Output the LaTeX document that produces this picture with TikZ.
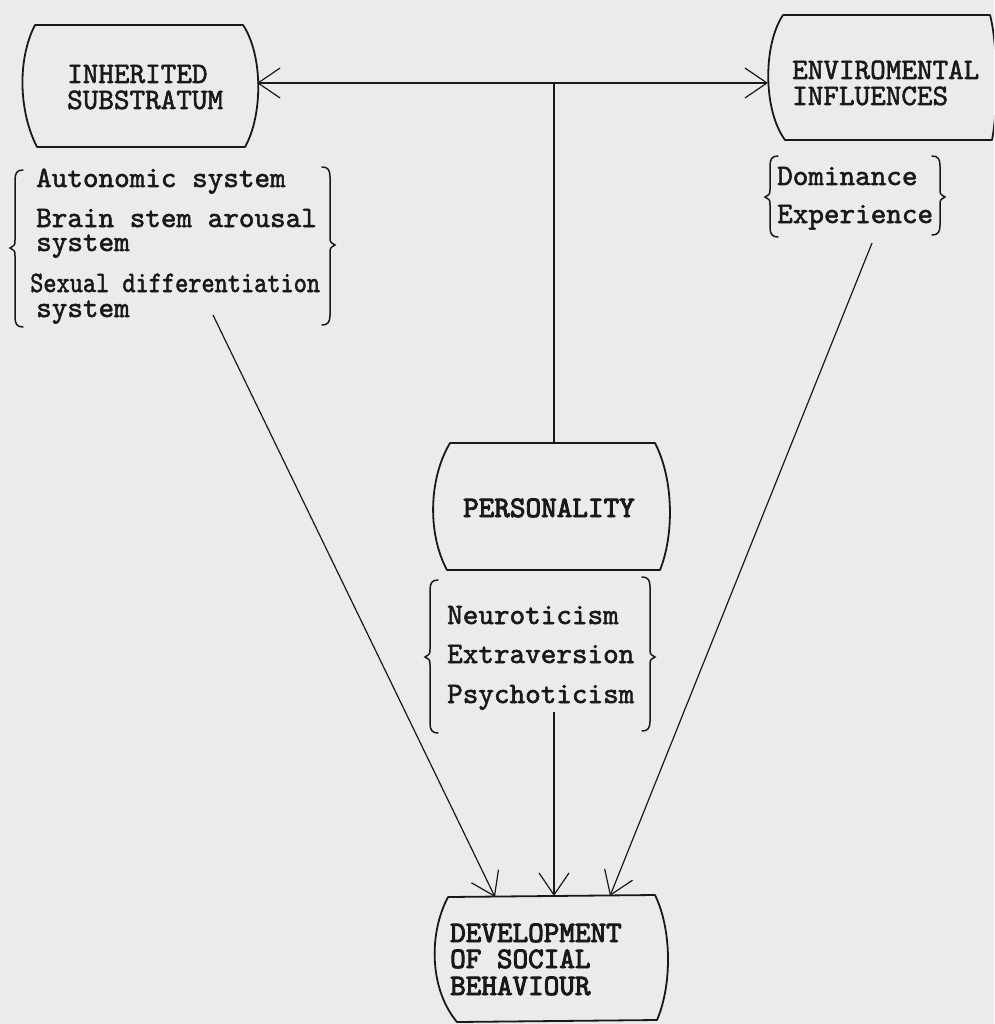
\documentclass[tikz,border=0pt]{standalone}
\usepackage{graphicx}
\usepackage{fontspec}
\newfontfamily\twreg{lmmono10-regular.otf}[RawFeature={embolden=1.8}]
\newfontfamily\twhvy{lmmono10-regular.otf}[RawFeature={embolden=3.2}]
\usetikzlibrary{arrows.meta}
\definecolor{bgc}{RGB}{235,235,235}
\definecolor{ink}{RGB}{25,25,25}
\tikzset{
  boxline/.style={draw=ink, line width=1.8pt, line join=round, line cap=round},
  conn/.style={draw=ink, line width=1.2pt},
  brc/.style={draw=ink, line width=1.5pt, line cap=round},
  txt/.style={font=\twreg\fontsize{29.7}{30}\selectfont, text=ink, inner sep=0pt, anchor=base west},
  btxt/.style={txt, font=\twhvy\fontsize{29.7}{30}\selectfont},
  >={Straight Barb[length=22pt,width=30pt]}
}
\newcommand\LBr[4]{\draw[brc] (#1+8,#2) .. controls (#1+2,#2) and (#1,#2+3) .. (#1,#2+10) -- (#1,#3-8) .. controls (#1,#3-3) .. (#1-5,#3) .. controls (#1,#3+3) .. (#1,#3+8) -- (#1,#4-10) .. controls (#1,#4-3) and (#1+2,#4) .. (#1+8,#4);}
\newcommand\RBr[4]{\draw[brc] (#1-8,#2) .. controls (#1-2,#2) and (#1,#2+3) .. (#1,#2+10) -- (#1,#3-8) .. controls (#1,#3-3) .. (#1+5,#3) .. controls (#1,#3+3) .. (#1,#3+8) -- (#1,#4-10) .. controls (#1,#4-3) and (#1-2,#4) .. (#1-8,#4);}
\begin{document}
\begin{tikzpicture}[x=1pt,y=-1pt]
\useasboundingbox (0,0) rectangle (994,1024);
\fill[bgc] (0,0) rectangle (994,1024);
\clip (0,0) rectangle (994,1024);

% boxes
\draw[boxline] (35,25) -- (243,25) .. controls (263,55) and (263,115) .. (245,147) -- (37,147) .. controls (19,112) and (17,60) .. (35,25);
\draw[boxline] (783,15) -- (990,15) .. controls (998,45) and (998,110) .. (992,140) -- (785,140) .. controls (763,110) and (763,45) .. (783,15);
\draw[boxline] (450,443) -- (655,443) .. controls (674,480) and (674,535) .. (660,570) -- (447,570) .. controls (428,535) and (428,480) .. (450,443);
\draw[boxline] (448,897) -- (655,895) .. controls (672,930) and (672,985) .. (657,1020) -- (457,1022) .. controls (430,990) and (428,935) .. (448,897);

% titles
\node[txt] (inh1) at (67,83) {INHERITED};
\node[txt] (inh2) at (67,109) {SUBSTRATUM};
\node[txt] (env1) at (792,79) {ENVIROMENTAL};
\node[txt] (env2) at (792,105) {INFLUENCES};
\node[btxt] (per) at (463,517) {PERSONALITY};
\node[btxt] (dev1) at (450,942) {DEVELOPMENT};
\node[btxt] (dev2) at (450,968) {OF SOCIAL};
\node[btxt] (dev3) at (450,995) {BEHAVIOUR};

% lists
\node[txt] (l1) at (36,187) {Autonomic system};
\node[txt] (l2) at (36,227) {Brain stem arousal};
\node[txt] (l3) at (36,251) {system};
\node[txt] (l4) at (30,292) {\scalebox{0.845}[1]{Sexual differentiation}};
\node[txt] (l5) at (36,317) {system};
\node[txt] (d1) at (777,185) {Dominance};
\node[txt] (d2) at (777,223) {Experience};
\node[txt] (p1) at (447,624) {Neuroticism};
\node[txt] (p2) at (447,663) {Extraversion};
\node[txt] (p3) at (447,703) {Psychoticism};

% braces
\LBr{15}{170}{248}{327}
\RBr{330}{167}{245}{325}
\LBr{770}{156}{197}{237}
\RBr{940}{156}{197}{235}
\LBr{430}{580}{657}{733}
\RBr{650}{577}{657}{731}

% connectors
\coordinate (inhE) at (257,83);
\coordinate (envW) at (768,83);
\coordinate (jn) at (554,83);
\coordinate (perN) at (554,443);
\coordinate (perS) at (554,712);
\coordinate (devN) at (554,896);
\coordinate (devL) at (495,897);
\coordinate (devR) at (610,896);
\coordinate (lstart) at (213,315);
\coordinate (rstart) at (872,243);
\draw[conn,<->] (inhE) -- (envW);
\draw[conn] (jn) -- (perN);
\draw[conn,->] (perS) -- (devN);
\draw[conn,->] (lstart) -- (devL);
\draw[conn,->] (rstart) -- (devR);
\end{tikzpicture}
\end{document}
